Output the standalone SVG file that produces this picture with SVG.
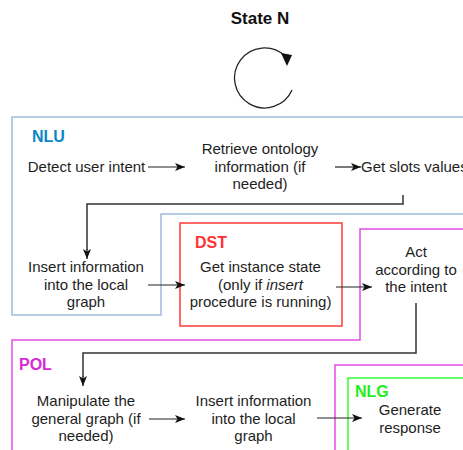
<svg xmlns="http://www.w3.org/2000/svg" width="463" height="450" viewBox="0 0 463 450">
  <defs>
    <marker id="arr" markerUnits="userSpaceOnUse" markerWidth="11" markerHeight="9" refX="10" refY="4" orient="auto">
      <path d="M0,0 L10,4 L0,8 L2.5,4 Z" fill="#111"/>
    </marker>
  </defs>
  <style>
    .t { font-family: "Liberation Sans", Arial, sans-serif; font-size: 15px; fill: #1e1e1e; text-anchor: middle; }
    .lbl { font-family: "Liberation Sans", Arial, sans-serif; font-size: 16px; font-weight: bold; }
    .c { fill: none; stroke: #333; stroke-width: 1.5; }
    .a { fill: none; stroke: #222; stroke-width: 1.2; marker-end: url(#arr); }
  </style>
  <rect width="463" height="450" fill="#fff"/>

  <g id="title">
    <text x="260" y="24" font-family="Liberation Sans, Arial, sans-serif" font-size="17" font-weight="bold" text-anchor="middle" fill="#111">State N</text>
    <path d="M292,90 A30,30 0 1 1 285,56" fill="none" stroke="#222" stroke-width="1.3"/>
    <path d="M281,53 L292,55 L287,66 Z" fill="#111"/>
  </g>

  <g id="nlu">
    <path d="M12,117 H470 V214 H161 V315 H12 Z" fill="none" stroke="#a3bbdc" stroke-width="1.5"/>
    <text class="lbl" x="32" y="142" fill="#0c86c6">NLU</text>
  </g>

  <g id="pol">
    <path d="M360,229 H470 V460 H12 V340 H360 Z" fill="none" stroke="#e34de3" stroke-width="1.5"/>
    <text class="lbl" x="19" y="370" fill="#d62bd6">POL</text>
  </g>

  <g id="dst">
    <rect x="180" y="223" width="162" height="103" fill="none" stroke="#ff3b3b" stroke-width="1.5"/>
    <text class="lbl" x="195" y="248" fill="#ff3333">DST</text>
  </g>

  <g id="nlg-outer">
    <rect x="335" y="365" width="140" height="100" fill="none" stroke="#e34de3" stroke-width="1.5"/>
  </g>
  <g id="nlg">
    <rect x="348" y="378" width="130" height="90" fill="none" stroke="#33ff33" stroke-width="1.5"/>
    <text class="lbl" x="355" y="397" fill="#22ee22">NLG</text>
  </g>

  <g id="detect">
    <text class="t" x="86.5" y="172">Detect user intent</text>
  </g>
  <g id="retrieve">
    <text class="t" x="260" y="154">Retrieve ontology</text>
    <text class="t" x="260" y="171.5">information (if</text>
    <text class="t" x="260" y="189">needed)</text>
  </g>
  <g id="slots">
    <text class="t" x="361" y="172" text-anchor="start" style="text-anchor:start">Get slots values</text>
  </g>
  <g id="insert1">
    <text class="t" x="86" y="272">Insert information</text>
    <text class="t" x="86" y="289.5">into the local</text>
    <text class="t" x="86" y="307">graph</text>
  </g>
  <g id="instance">
    <text class="t" x="260.5" y="272">Get instance state</text>
    <text class="t" x="260.5" y="289.5">(only if <tspan font-style="italic">insert</tspan></text>
    <text class="t" x="260.5" y="307">procedure is running)</text>
  </g>
  <g id="act">
    <text class="t" x="416" y="257">Act</text>
    <text class="t" x="416" y="274.5">according to</text>
    <text class="t" x="416" y="292">the intent</text>
  </g>
  <g id="manipulate">
    <text class="t" x="86" y="406">Manipulate the</text>
    <text class="t" x="86" y="423.5">general graph (if</text>
    <text class="t" x="86" y="441">needed)</text>
  </g>
  <g id="insert2">
    <text class="t" x="253.5" y="406">Insert information</text>
    <text class="t" x="253.5" y="423.5">into the local</text>
    <text class="t" x="253.5" y="441">graph</text>
  </g>
  <g id="generate">
    <text class="t" x="410" y="415">Generate</text>
    <text class="t" x="410" y="433">response</text>
  </g>

  <g id="connectors">
    <line class="a" x1="148" y1="167" x2="185" y2="167"/>
    <line class="a" x1="335" y1="167" x2="361" y2="167"/>
    <path class="c" d="M403,195 V204 H87 V250"/>
    <line class="a" x1="87" y1="249" x2="87" y2="259"/>
    <line class="a" x1="148" y1="285" x2="185" y2="285"/>
    <line class="a" x1="336" y1="287" x2="372" y2="287"/>
    <path class="c" d="M416,303 V353 H83 V377"/>
    <line class="a" x1="83" y1="376" x2="83" y2="386"/>
    <line class="a" x1="149" y1="419" x2="185" y2="419"/>
    <line class="a" x1="317" y1="418" x2="362" y2="418"/>
  </g>
</svg>
